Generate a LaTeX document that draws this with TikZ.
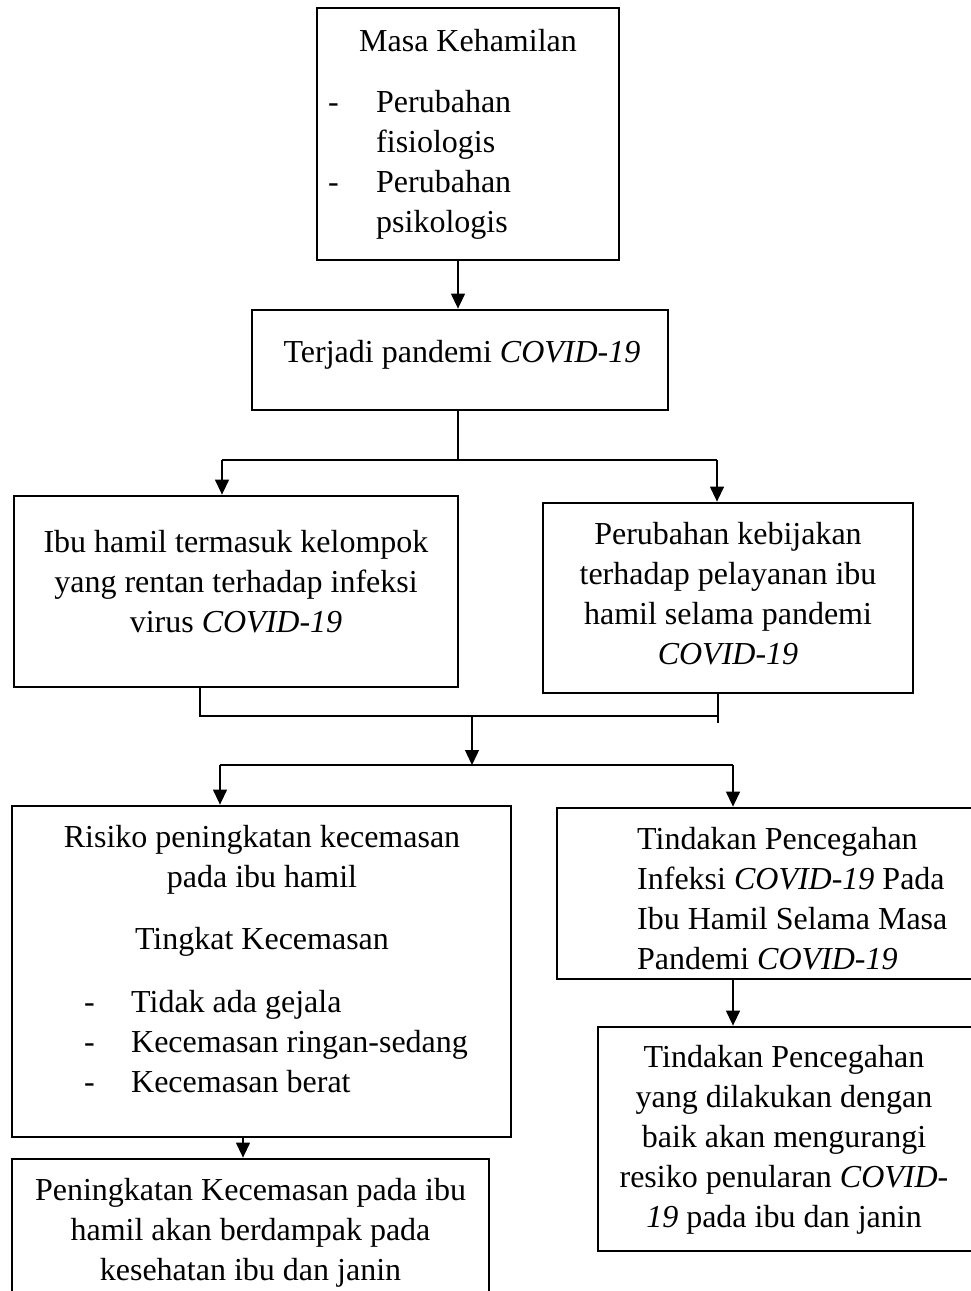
\documentclass[tikz,border=0pt]{standalone}
\usepackage{fontspec}
\setmainfont{Liberation Serif}
\usetikzlibrary{arrows.meta}
\newcommand{\fst}{\rule{0pt}{30pt}}
\newcommand{\dsh}[1]{\makebox[#1][l]{-}}
\begin{document}
\begin{tikzpicture}[x=1pt,y=-1pt,
  box/.style={draw, line width=2.8pt, inner sep=0pt, rectangle},
  txt/.style={inner sep=0pt, anchor=north, align=center, font=\fontsize{32}{40}\selectfont},
  ltxt/.style={inner sep=0pt, anchor=north west, align=left, font=\fontsize{32}{40}\selectfont},
  con/.style={line width=1.3pt},
  arr/.style={line width=1.3pt, -{Triangle[width=14pt,length=15pt]}}]
\clip (0,0) rectangle (971,1291);
\fill[white] (0,0) rectangle (971,1291);
% boxes
\node[box, minimum width=302pt, minimum height=252pt] (b1) at (468,134) {};
\node[box, minimum width=416pt, minimum height=100pt] (b2) at (460,360) {};
\node[box, minimum width=444pt, minimum height=191pt] (b3) at (236,591.5) {};
\node[box, minimum width=370pt, minimum height=190pt] (b4) at (728,598) {};
\node[box, minimum width=499pt, minimum height=331pt] (b5) at (261.5,971.5) {};
\node[box, minimum width=423pt, minimum height=171pt] (b6) at (768.5,893.5) {};
\node[box, minimum width=477pt, minimum height=161pt] (b7) at (250.5,1239.5) {};
\node[box, minimum width=382pt, minimum height=224pt] (b8) at (789,1139) {};
% texts
\node[txt] (t1a) at (468,21) {\fst Masa Kehamilan};
\node[ltxt] (t1b) at (328,82) {\fst\dsh{48pt}Perubahan\\\hspace*{48pt}fisiologis\\\dsh{48pt}Perubahan\\\hspace*{48pt}psikologis};
\node[txt] (t2) at (462,332) {\fst Terjadi pandemi \textit{COVID-19}};
\node[txt] (t3) at (236,522) {\fst Ibu hamil termasuk kelompok\\yang rentan terhadap infeksi\\virus \textit{COVID-19}};
\node[txt] (t4) at (728,514) {\fst Perubahan kebijakan\\terhadap pelayanan ibu\\hamil selama pandemi\\\textit{COVID-19}};
\node[txt] (t5a) at (262,817) {\fst Risiko peningkatan kecemasan\\pada ibu hamil};
\node[txt] (t5b) at (262,919) {\fst Tingkat Kecemasan};
\node[ltxt] (t5c) at (84,982) {\fst\dsh{47pt}Tidak ada gejala\\\dsh{47pt}Kecemasan ringan-sedang\\\dsh{47pt}Kecemasan berat};
\node[ltxt] (t6) at (637,819) {\fst Tindakan Pencegahan\\Infeksi \textit{COVID-19} Pada\\Ibu Hamil Selama Masa\\Pandemi \textit{COVID-19}};
\node[txt] (t7) at (250.5,1170) {\fst Peningkatan Kecemasan pada ibu\\hamil akan berdampak pada\\kesehatan ibu dan janin};
\node[txt] (t8) at (784,1037) {\fst Tindakan Pencegahan\\yang dilakukan dengan\\baik akan mengurangi\\resiko penularan \textit{COVID-}\\\textit{19} pada ibu dan janin};
% junction coordinates
\coordinate (a1) at (458,0);
\coordinate (j1) at (458,460);
\coordinate (j1l) at (222,460);
\coordinate (j1r) at (717,460);
\coordinate (j2l) at (200,716);
\coordinate (j2r) at (718,716);
\coordinate (j2e) at (718,723);
\coordinate (j3) at (472,716);
\coordinate (j4) at (472,765);
\coordinate (j4l) at (220,765);
\coordinate (j4r) at (733,765);
\coordinate (a5) at (243,0);
\coordinate (a6) at (733,0);
% connectors
\draw[arr] (b1.south -| a1) -- (b2.north -| a1);
\draw[con] (b2.south -| j1) -- (j1);
\draw[con] (j1l) -- (j1r);
\draw[arr] (j1l) -- (b3.north -| j1l);
\draw[arr] (j1r) -- (b4.north -| j1r);
\draw[con] (b3.south -| j2l) -- (j2l) -- (j2r);
\draw[con] (b4.south -| j2r) -- (j2e);
\draw[arr] (j3) -- (j4);
\draw[con] (j4l) -- (j4r);
\draw[arr] (j4l) -- (b5.north -| j4l);
\draw[arr] (j4r) -- (b6.north -| j4r);
\draw[arr] (b5.south -| a5) -- (b7.north -| a5);
\draw[arr] (b6.south -| a6) -- (b8.north -| a6);
\end{tikzpicture}
\end{document}
